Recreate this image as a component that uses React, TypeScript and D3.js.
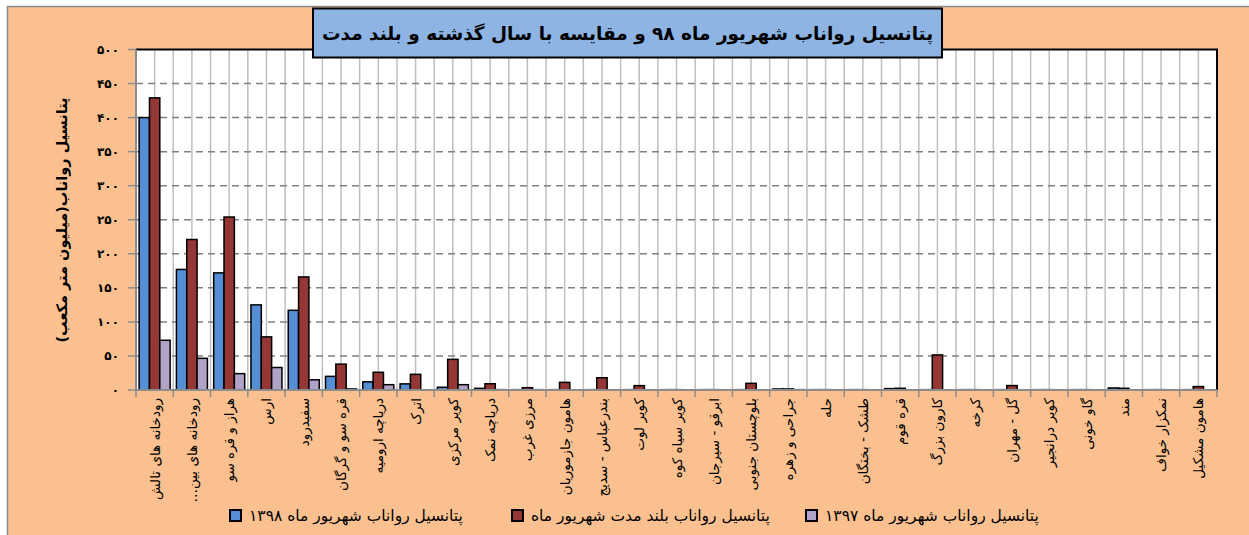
import React, { useEffect, useRef } from "react";
import * as d3 from "d3";

const categories = [
  "رودخانه های تالش", "رودخانه های بین…", "هراز و قره سو", "ارس", "سفیدرود",
  "قره سو و گرگان", "دریاچه ارومیه", "اترک", "کویر مرکزی", "دریاچه نمک",
  "مرزی غرب", "هامون جازموریان", "بندرعباس - سدیج", "کویر لوت", "کویر سیاه کوه",
  "ابرقو - سیرجان", "بلوچستان جنوبی", "جراحی و زهره", "حله", "طشک - بختگان",
  "قره قوم", "کارون بزرگ", "کرخه", "گل - مهران", "کویر درانجیر",
  "گاو خونی", "مند", "نمکزار خواف", "هامون مشکیل"
];

// شهریور ۱۳۹۸
const values1398 = [
  400, 177, 172, 125, 117, 20, 12, 9, 4, 2.4, 0.5, 0.5, 0.5, 0.5, 0.5,
  0.5, 0.5, 1.5, 0.5, 0.5, 2, 0.5, 0.5, 0.5, 0.5, 0.5, 3, 0.5, 0.5
];
// بلند مدت شهریور
const valuesLongTerm = [
  429, 221, 254, 78, 166, 38, 26, 23, 45, 9.2, 3.4, 11.2, 18, 6.4, 0.5,
  0.5, 9.8, 1.5, 0.5, 0.5, 2.5, 51.5, 0.5, 6.5, 0.5, 0.5, 2.5, 0.5, 5
];
// شهریور ۱۳۹۷
const values1397 = [
  73, 46.5, 24, 33, 15, 1.5, 7.8, 0.3, 7.8, 0.5, 0.5, 0.3, 0.3, 0.3, 0.3,
  0.3, 0.3, 0.5, 0.3, 0.3, 0.3, 0.3, 0.3, 0.3, 0.3, 0.3, 0.3, 0.3, 0.3
];

const seriesNames = [
  "پتانسیل رواناب شهریور ماه ۱۳۹۸",
  "پتانسیل رواناب بلند مدت شهریور ماه",
  "پتانسیل رواناب شهریور ماه ۱۳۹۷"
];
const seriesColors = ["#558ED5", "#953735", "#B3A2C7"];
const yTicks = [0, 50, 100, 150, 200, 250, 300, 350, 400, 450, 500];

const titleText = "پتانسیل رواناب شهریور ماه ۹۸ و مقایسه با سال گذشته و بلند مدت";
const yTitle = "پتانسیل رواناب(میلیون متر مکعب)";

const fa = (n: number) => String(n).replace(/\d/g, (d) => "۰۱۲۳۴۵۶۷۸۹"[+d]);

export default function App() {
  const ref = useRef<SVGSVGElement>(null);

  useEffect(() => {
    const W = 1249, H = 535;
    const left = 136, right = 1217, top = 49.5, bottom = 390;
    const font = "DejaVu Sans";
    const svg = d3.select(ref.current).attr("width", W).attr("height", H);
    svg.selectAll("*").remove();

    // background
    svg.append("rect").attr("x", 7.5).attr("y", 6.5).attr("width", W).attr("height", H)
      .attr("fill", "#FAC090").attr("stroke", "#8C8C8C").attr("stroke-width", 1.5);

    const x0 = d3.scaleBand().domain(categories).range([left, right]).paddingInner(0.168).paddingOuter(0.084);
    const x1 = d3.scaleBand().domain(["a", "b", "c"]).range([0, x0.bandwidth()]);
    const y = d3.scaleLinear().domain([0, 500]).range([bottom, top]);
    const step = x0.step();
    const boundary = (c: string) => (x0(c) as number) - x0.paddingOuter() * step;

    svg.append("rect").attr("x", left).attr("y", top).attr("width", right - left).attr("height", bottom - top)
      .attr("fill", "#fff");

    // vertical grid lines: boundaries and centers
    const g = svg.append("g");
    categories.forEach((c) => {
      const b = boundary(c);
      const m = (x0(c) as number) + x0.bandwidth() / 2;
      [b, m].forEach((xx) => g.append("line").attr("x1", xx).attr("x2", xx).attr("y1", top).attr("y2", bottom)
        .attr("stroke", "#BFBFBF").attr("stroke-width", 1.5));
    });

    // horizontal dashed grid
    yTicks.filter((t) => t > 0 && t < 500).forEach((t) => {
      g.append("line").attr("x1", left).attr("x2", right).attr("y1", y(t)).attr("y2", y(t))
        .attr("stroke", "#808080").attr("stroke-width", 1.5).attr("stroke-dasharray", "7 5");
    });

    // plot border
    svg.append("path").attr("d", `M${left},${top}H${right}V${bottom}`)
      .attr("fill", "none").attr("stroke", "#000").attr("stroke-width", 2);

    // bars
    const series = [values1398, valuesLongTerm, values1397];
    const keys = ["a", "b", "c"];
    const bars = svg.append("g");
    categories.forEach((c, i) => {
      series.forEach((vals, s) => {
        const v = vals[i];
        bars.append("rect")
          .attr("x", (x0(c) as number) + (x1(keys[s]) as number))
          .attr("y", y(v))
          .attr("width", x1.bandwidth())
          .attr("height", y(0) - y(v))
          .attr("fill", seriesColors[s])
          .attr("stroke", "#000").attr("stroke-width", 1.5);
      });
    });

    // axes
    svg.append("line").attr("x1", left).attr("x2", left).attr("y1", top).attr("y2", bottom + 1)
      .attr("stroke", "#8C8C8C").attr("stroke-width", 2);
    svg.append("line").attr("x1", left).attr("x2", right).attr("y1", bottom).attr("y2", bottom)
      .attr("stroke", "#8C8C8C").attr("stroke-width", 2);

    yTicks.forEach((t) => {
      svg.append("line").attr("x1", left - 8).attr("x2", left).attr("y1", y(t)).attr("y2", y(t))
        .attr("stroke", "#8C8C8C").attr("stroke-width", 1.5);
      svg.append("text").attr("x", 119).attr("y", y(t)).attr("dy", "0.35em")
        .attr("text-anchor", "end").attr("font-family", font).attr("font-weight", "bold")
        .attr("font-size", 12).text(fa(t));
    });

    const xt = [...categories.map(boundary), right];
    xt.forEach((xx) => svg.append("line").attr("x1", xx).attr("x2", xx).attr("y1", bottom).attr("y2", bottom + 7)
      .attr("stroke", "#8C8C8C").attr("stroke-width", 1.5));

    categories.forEach((c) => {
      const cx = (x0(c) as number) + x0.bandwidth() / 2;
      svg.append("text")
        .attr("transform", `translate(${cx},${bottom + 8}) rotate(-90)`)
        .attr("direction", "rtl").attr("text-anchor", "start")
        .attr("dominant-baseline", "central")
        .attr("font-family", font).attr("font-size", 13.5).text(c);
    });

    // y title
    svg.append("text").attr("transform", "translate(62,220) rotate(-90)")
      .attr("direction", "rtl").attr("text-anchor", "middle").attr("dominant-baseline", "central")
      .attr("font-family", font).attr("font-weight", "bold").attr("font-size", 14.5).text(yTitle);

    // title
    svg.append("rect").attr("x", 313).attr("y", 8.5).attr("width", 629).attr("height", 49)
      .attr("fill", "#8DB4E2").attr("stroke", "#000").attr("stroke-width", 2);
    svg.append("text").attr("x", 627.5).attr("y", 33).attr("direction", "rtl").attr("text-anchor", "middle")
      .attr("dominant-baseline", "central").attr("font-family", font).attr("font-weight", "bold")
      .attr("font-size", 18.5).text(titleText);

    // legend
    const legendX = [230, 512, 806];
    seriesNames.forEach((name, s) => {
      svg.append("rect").attr("x", legendX[s]).attr("y", 510).attr("width", 11).attr("height", 11)
        .attr("fill", seriesColors[s]).attr("stroke", "#000").attr("stroke-width", 2);
      svg.append("text").attr("x", legendX[s] + 19).attr("y", 516).attr("direction", "rtl")
        .attr("text-anchor", "end").attr("dominant-baseline", "central")
        .attr("font-family", font).attr("font-size", 15.5).text(name);
    });
  }, []);

  return <svg ref={ref} style={{ position: "absolute", left: 0, top: 0 }}></svg>;
}
